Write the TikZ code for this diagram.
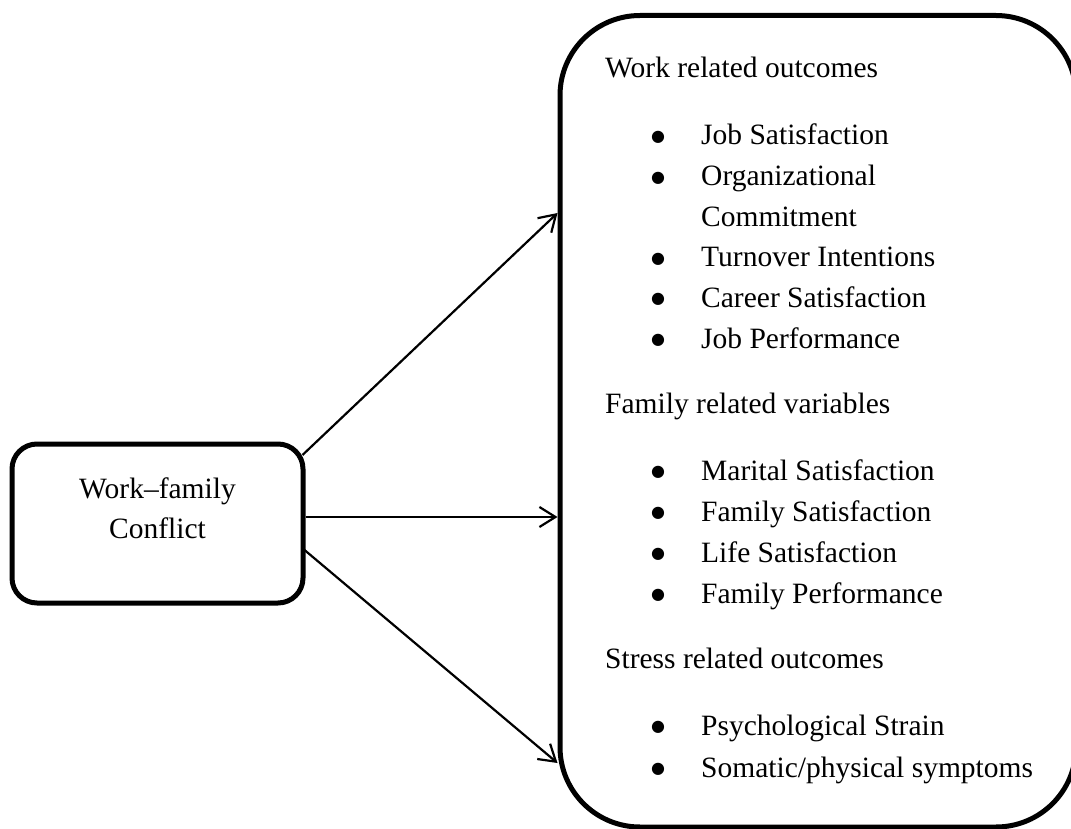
\documentclass[tikz,border=0pt]{standalone}
\usepackage{fontspec}
\setmainfont{Liberation Serif}
\newfontfamily\dotfont{DejaVu Sans}
\usetikzlibrary{arrows.meta}
\begin{document}
\begin{tikzpicture}[x=1pt,y=-1pt,
  txt/.style={inner sep=0pt, font=\fontsize{29.5}{40}\selectfont},
  heading/.style={txt, anchor=base west},
  entry/.style={txt, anchor=base west},
  bul/.style={inner sep=0pt, anchor=base, yshift=3.5pt, font=\dotfont\fontsize{16}{18}\selectfont},
  box/.style={draw=black, line width=5pt, rounded corners=#1, inner sep=0pt},
  link/.style={line width=2.2pt, -{Straight Barb[length=16pt,width=20pt,line width=2.2pt]}}
]
\useasboundingbox (0,0) rectangle (1071,829);

% source box
\node[box=25, minimum width=291pt, minimum height=159pt] (wfc) at (157.5,523.5) {};
\node[txt, anchor=base] (wfcA) at (157.5,498) {Work–family};
\node[txt, anchor=base] (wfcB) at (157.5,538) {Conflict};

% outcome box, running past the right and bottom edges
\begin{scope}
  \clip (0,0) rectangle (1071,829);
  \node[box=80, minimum width=516pt, minimum height=811.5pt] (outc) at (818,421.25) {};
\end{scope}

% work related outcomes
\node[heading] (h1) at (605,78) {Work related outcomes};
\node[bul] (b11) at (658,145) {●};   \node[entry] (i11) at (701,145) {Job Satisfaction};
\node[bul] (b12) at (658,185.6) {●}; \node[entry] (i12) at (701,185.6) {Organizational};
                                      \node[entry] (i12b) at (701,226.2) {Commitment};
\node[bul] (b13) at (658,266.8) {●}; \node[entry] (i13) at (701,266.8) {Turnover Intentions};
\node[bul] (b14) at (658,307.4) {●}; \node[entry] (i14) at (701,307.4) {Career Satisfaction};
\node[bul] (b15) at (658,348) {●};   \node[entry] (i15) at (701,348) {Job Performance};

% family related variables
\node[heading] (h2) at (605,413) {Family related variables};
\node[bul] (b21) at (658,480) {●}; \node[entry] (i21) at (701,480) {Marital Satisfaction};
\node[bul] (b22) at (658,521) {●}; \node[entry] (i22) at (701,521) {Family Satisfaction};
\node[bul] (b23) at (658,562) {●}; \node[entry] (i23) at (701,562) {Life Satisfaction};
\node[bul] (b24) at (658,603) {●}; \node[entry] (i24) at (701,603) {Family Performance};

% stress related outcomes
\node[heading] (h3) at (605,668) {Stress related outcomes};
\node[bul] (b31) at (658,735) {●}; \node[entry] (i31) at (701,735) {Psychological Strain};
\node[bul] (b32) at (658,777) {●}; \node[entry] (i32) at (701,777) {Somatic/physical symptoms};

% connectors
\draw[link] ([xshift=-3pt]wfc.east |- 0,455) -- (outc.west |- 0,213);
\draw[link] (wfc.east |- 0,517) -- (outc.west |- 0,517);
\draw[link] ([xshift=-1pt]wfc.east |- 0,550) -- (outc.west |- 0,763);
\end{tikzpicture}
\end{document}
